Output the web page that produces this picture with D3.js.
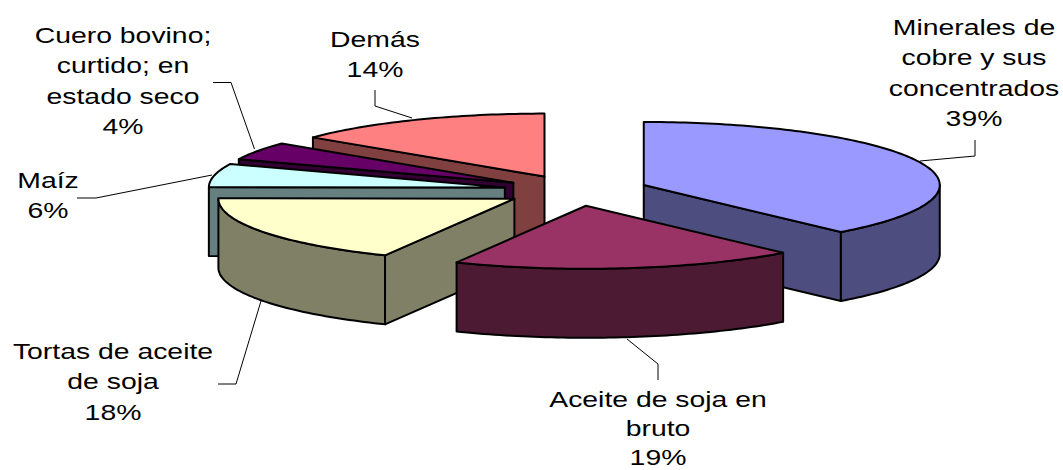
<!DOCTYPE html>
<html><head><meta charset="utf-8">
<script src="https://cdn.jsdelivr.net/npm/d3@7"></script>
<style>
html,body{margin:0;padding:0;background:#fff;}
svg{display:block;}
text{font-family:"Liberation Sans",Arial,sans-serif;font-size:21.5px;fill:#000;text-anchor:middle;}
</style></head><body>
<script>
const categories = ["Minerales de cobre y sus concentrados","Aceite de soja en bruto","Tortas de aceite de soja","Maíz","Cuero bovino; curtido; en estado seco","Demás"];
const values = [38.4,18.8,17.9,6,4.6,14.3];
const percentLabels = ["39%","19%","18%","6%","4%","14%"];
const labelLines = [
  ["Minerales de","cobre y sus","concentrados"],
  ["Aceite de soja en","bruto"],
  ["Tortas de aceite","de soja"],
  ["Maíz"],
  ["Cuero bovino;","curtido; en","estado seco"],
  ["Demás"]
];
const topColors  = ["#9999FF","#993366","#FFFFCC","#CCFFFF","#660066","#FF8080"];
const sideColors = ["#4D4D80","#4D1A33","#808066","#668080","#330033","#804040"];
const drawOrder = [5,4,3,2,0,1];

// layout, separate from the data
const W=1063,H=470, cx=576, cy=190.5, rx=296, ry=63, depth=69, explode=0.245;
const labelAnchor = [[974,35],[658,406.5],[113,359],[48,188],[123,43],[375,47]];
const lineSteps = [30.4,29.4,30.4,30.4,30.4,30.4], textStretch = 1.32;
const leaders = [
  [[975,140],[975,156],[920,161]],
  [[658,380],[658,364],[627,339]],
  [[218,384],[236,384],[261,301]],
  [[77,198],[96,198],[212,175]],
  [[213,82.5],[231,82.5],[254.5,149]],
  [[375,90],[375,106],[412,118]]
];

const svg = d3.select("body").append("svg").attr("width",W).attr("height",H);
const px = d3.scaleLinear().domain([-1,1]).range([-rx,rx]);
const py = d3.scaleLinear().domain([-1,1]).range([ry,-ry]); // +1 = back of the pie

const pie = d3.pie().sort(null).value(d=>d).startAngle(0).endAngle(2*Math.PI);
const arcs = pie(values);
const line = d3.line();

const slices = arcs.map(a=>{
  const mid=(a.startAngle+a.endAngle)/2;
  const ox=cx+px(Math.sin(mid))*explode, oy=cy+py(Math.cos(mid))*explode;
  const pt=t=>[ox+px(Math.sin(t)), oy+py(Math.cos(t))];
  const samples=(t0,t1)=>{
    const n=Math.max(2,Math.ceil((t1-t0)/0.02));
    return d3.range(n+1).map(i=>pt(t0+(t1-t0)*i/n));
  };
  return {a,ox,oy,pt,samples};
});
const down=p=>[p[0],p[1]+depth];

drawOrder.forEach(i=>{
  const s=slices[i], t0=s.a.startAngle, t1=s.a.endAngle, O=[s.ox,s.oy];
  const g=svg.append("g").attr("stroke","#000").attr("stroke-width",2).attr("stroke-linejoin","round");
  // radial cut faces that turn toward the viewer
  const face=t=>{const P=s.pt(t);
    g.append("path").attr("d",line([O,P,down(P),down(O)])+"Z").attr("fill",sideColors[i]);};
  if(Math.sin(t0)<-1e-6) face(t0);
  if(Math.sin(t1)>1e-6) face(t1);
  // curved rim, front half only
  const r0=Math.max(t0,Math.PI/2), r1=Math.min(t1,Math.PI*1.5);
  if(r1>r0){
    const top=s.samples(r0,r1);
    g.append("path").attr("d",line(top.concat(top.slice().reverse().map(down)))+"Z").attr("fill",sideColors[i]);
  }
  // top surface
  g.append("path").attr("d",line([O].concat(s.samples(t0,t1)))+"Z").attr("fill",topColors[i]);
});

// leader lines
svg.append("g").selectAll("path").data(leaders).join("path")
  .attr("d",d=>line(d)).attr("fill","none").attr("stroke","#000").attr("stroke-width",1);

// labels (the reference's type is stretched horizontally)
categories.forEach((c,i)=>{
  const all=labelLines[i].concat(percentLabels[i]);
  all.forEach((l,k)=>svg.append("text")
    .attr("transform",`translate(${labelAnchor[i][0]},${labelAnchor[i][1]+k*lineSteps[i]}) scale(${textStretch},1)`)
    .text(l));
});
</script></body></html>
